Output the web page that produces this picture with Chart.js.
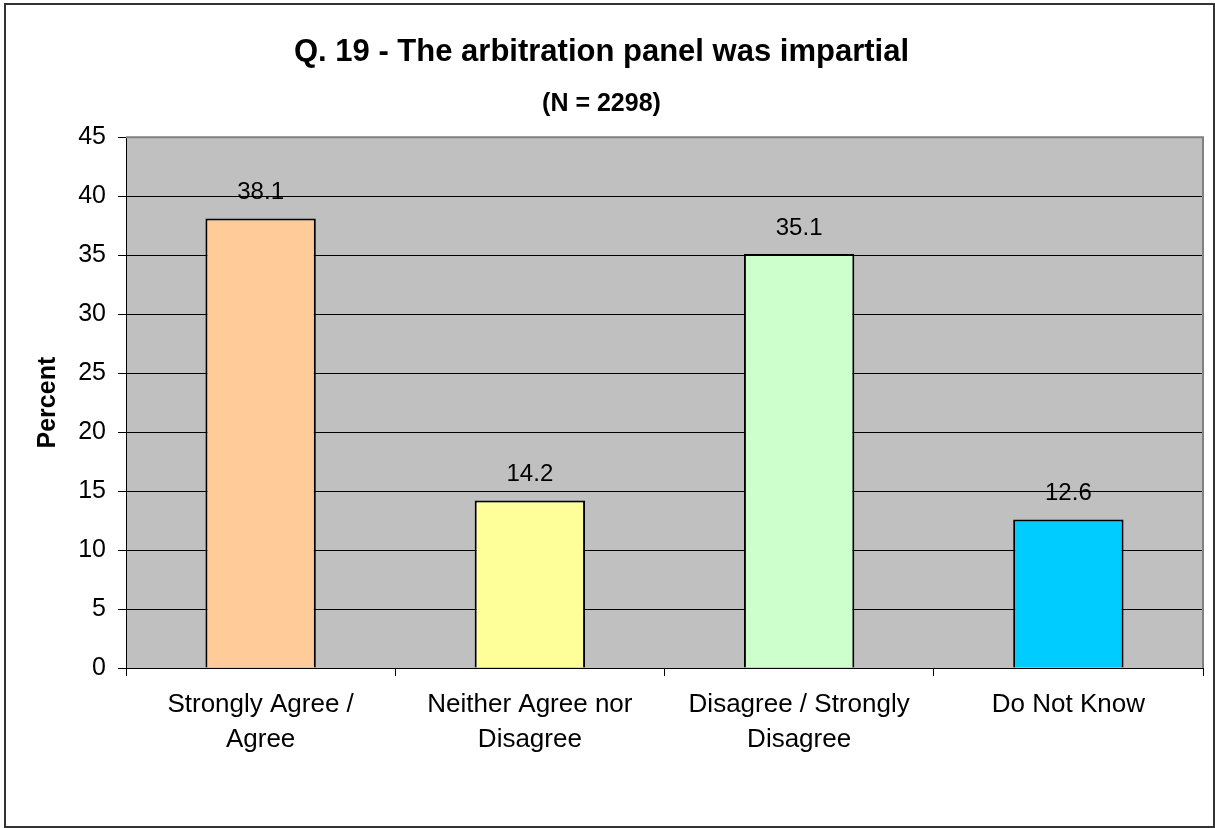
<!DOCTYPE html>
<html>
<head>
<meta charset="utf-8">
<script src="https://cdn.jsdelivr.net/npm/chart.js@4/dist/chart.umd.min.js"></script>
<style>
  html, body { margin: 0; padding: 0; background: #fff; }
  canvas { display: block; }
</style>
</head>
<body>
<canvas id="surveyChart" width="1215" height="828"></canvas>
<script>
const categories = [
  ["Strongly Agree /", "Agree"],
  ["Neither Agree nor", "Disagree"],
  ["Disagree / Strongly", "Disagree"],
  ["Do Not Know"],
];
const percents = [38.1, 14.2, 35.1, 12.6];
const barColors = ["#FFCC99", "#FFFF99", "#CCFFCC", "#00CCFF"];

const titleText = "Q. 19 - The arbitration panel was impartial";
const subtitleText = "(N = 2298)";
const FONT = "Arial, 'Liberation Sans', Helvetica, sans-serif";

// gray plot area + frame round the whole picture
const plotBackground = {
  id: "plotBackground",
  beforeDraw(chart) {
    const { ctx, chartArea } = chart;
    ctx.save();
    ctx.fillStyle = "#C0C0C0";
    ctx.fillRect(chartArea.left, chartArea.top, chartArea.right - chartArea.left, chartArea.bottom - chartArea.top);
    ctx.restore();
  },
  beforeDatasetsDraw(chart) {
    const { ctx, chartArea } = chart;
    ctx.save();
    ctx.strokeStyle = "#808080";
    ctx.lineWidth = 2;
    ctx.beginPath();
    ctx.moveTo(chartArea.left, chartArea.top);
    ctx.lineTo(chartArea.right, chartArea.top);
    ctx.lineTo(chartArea.right, chartArea.bottom);
    ctx.stroke();
    ctx.restore();
  },
  afterDraw(chart) {
    const ctx = chart.ctx;
    ctx.save();
    ctx.strokeStyle = "#333";
    ctx.lineWidth = 2;
    ctx.strokeRect(5, 4, 1209, 823);
    ctx.restore();
  },
};

const valueLabels = {
  id: "valueLabels",
  afterDatasetsDraw(chart) {
    const ctx = chart.ctx;
    const meta = chart.getDatasetMeta(0);
    ctx.save();
    ctx.font = "24px " + FONT;
    ctx.fillStyle = "#000";
    ctx.textAlign = "center";
    ctx.textBaseline = "middle";
    meta.data.forEach((bar, i) => {
      ctx.fillText(percents[i].toFixed(1), bar.x, bar.y - 26);
    });
    ctx.restore();
  },
};

new Chart(document.getElementById("surveyChart"), {
  type: "bar",
  data: {
    labels: categories,
    datasets: [
      {
        data: percents,
        backgroundColor: barColors,
        borderColor: "#000",
        borderWidth: 2,
        barPercentage: 0.41,
        categoryPercentage: 1,
      },
    ],
  },
  options: {
    responsive: false,
    animation: false,
    layout: {
      padding: { left: 0, right: 12, top: 0, bottom: 70 },
    },
    scales: {
      x: {
        afterFit(scale) {
          scale.height = 90;
        },
        grid: {
          display: true,
          drawOnChartArea: false,
          offset: true,
          color: "#000",
          tickLength: 8,
        },
        border: { color: "#000", width: 1 },
        ticks: {
          color: "#000",
          padding: 11,
          maxRotation: 0,
          font: { family: FONT, size: 26, lineHeight: 1.35 },
        },
      },
      y: {
        min: 0,
        max: 45,
        afterFit(scale) {
          scale.width = 126;
        },
        ticks: {
          stepSize: 5,
          color: "#000",
          padding: 12,
          font: { family: FONT, size: 25 },
        },
        grid: {
          color: "#000",
          tickColor: "#000",
          tickLength: 8,
        },
        border: { color: "#000", width: 1 },
        title: {
          display: true,
          text: "Percent",
          color: "#000",
          padding: { top: 33, bottom: 0 },
          font: { family: FONT, size: 25, weight: "bold" },
        },
      },
    },
    plugins: {
      legend: { display: false },
      tooltip: { enabled: false },
      title: {
        display: true,
        text: titleText,
        color: "#000",
        padding: { top: 34, bottom: 0 },
        font: { family: FONT, size: 31, weight: "bold" },
      },
      subtitle: {
        display: true,
        text: subtitleText,
        color: "#000",
        padding: { top: 18, bottom: 18 },
        font: { family: FONT, size: 25, weight: "bold" },
      },
    },
  },
  plugins: [plotBackground, valueLabels],
});
</script>
</body>
</html>
